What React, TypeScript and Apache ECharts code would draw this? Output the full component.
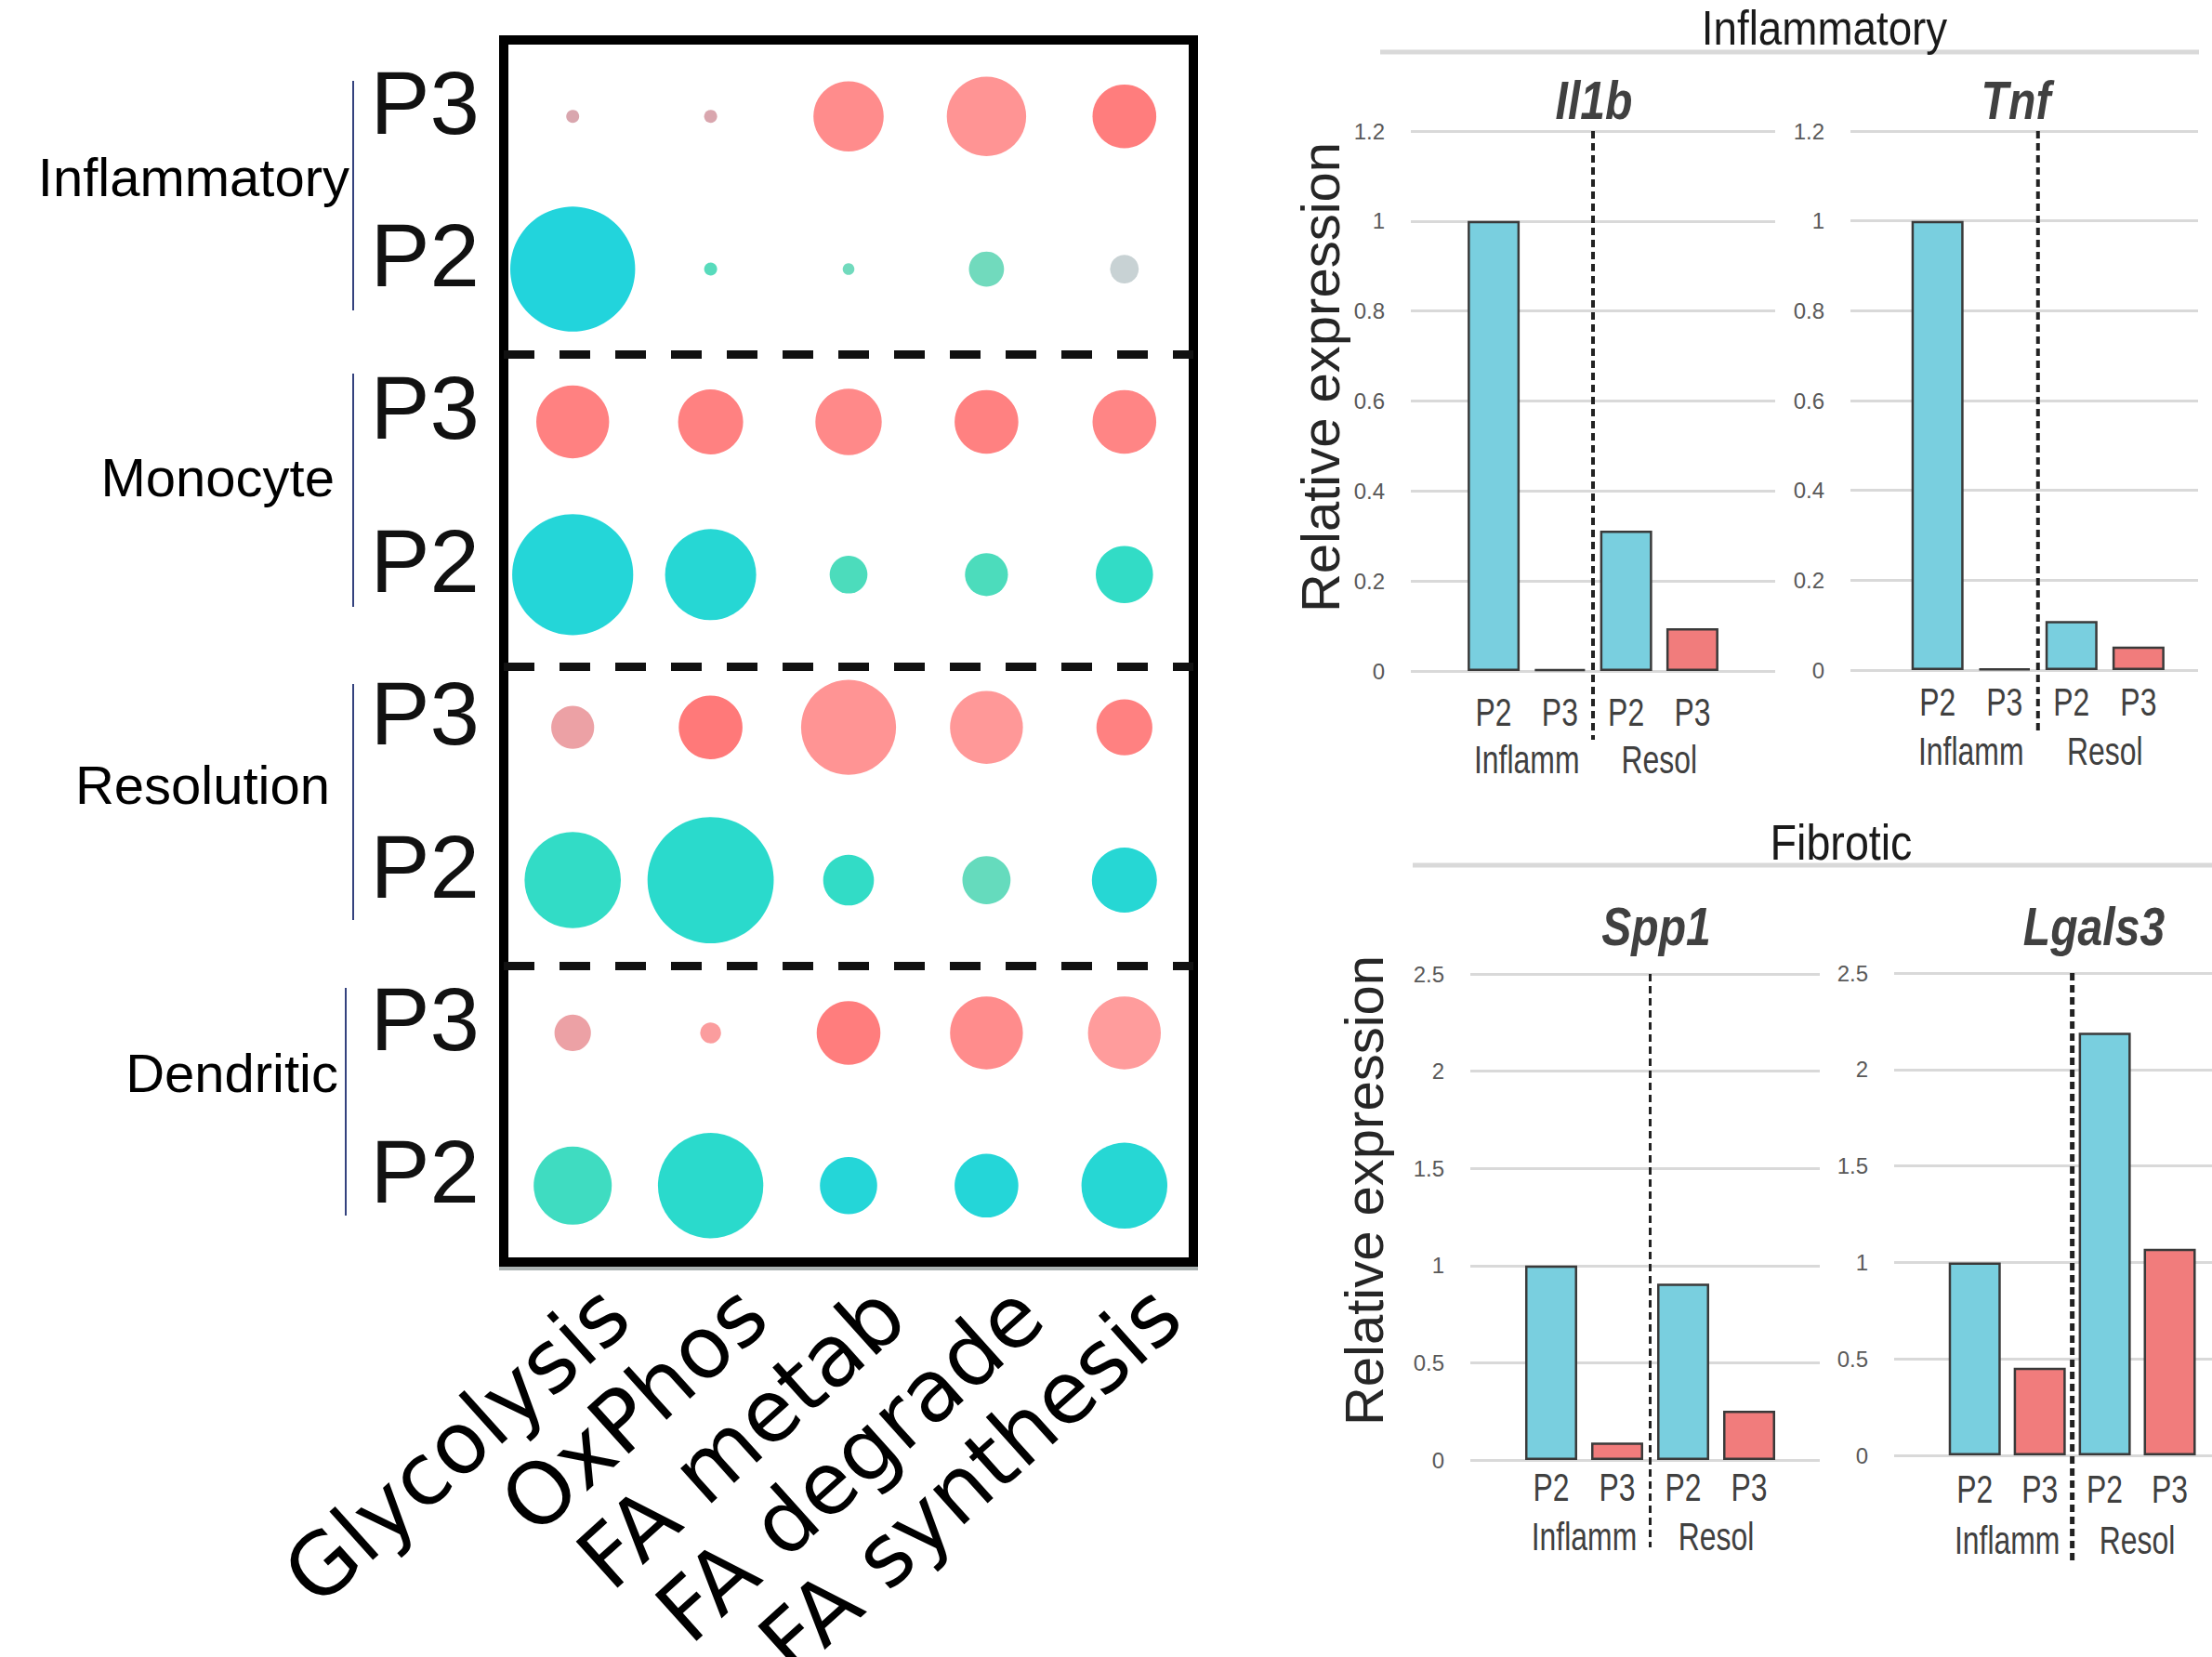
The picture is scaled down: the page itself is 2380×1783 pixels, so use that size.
import React, { useEffect, useRef } from 'react';
import * as echarts from 'echarts';

// ---------------- Dot plot data ----------------
const pathways = ['Glycolysis', 'OxPhos', 'FA metab', 'FA degrade', 'FA synthesis'];
const cellGroups = ['Inflammatory', 'Monocyte', 'Resolution', 'Dendritic'];
const rowPopulations = ['P3', 'P2', 'P3', 'P2', 'P3', 'P2', 'P3', 'P2'];

// dot size score (per pathway)
const inflammatoryP3Size = [10, 10, 54, 61, 49];
const inflammatoryP2Size = [96, 10, 9, 27, 22];
const monocyteP3Size = [56, 50, 51, 49, 49];
const monocyteP2Size = [93, 70, 29, 33, 44];
const resolutionP3Size = [33, 49, 73, 56, 43];
const resolutionP2Size = [74, 97, 39, 37, 50];
const dendriticP3Size = [28, 16, 49, 56, 56];
const dendriticP2Size = [60, 81, 44, 49, 66];

// dot colour level (per pathway)
const inflammatoryP3Level = [0.0, 0.0, 0.7, 0.6, 0.9];
const inflammatoryP2Level = [1.0, 0.45, 0.35, 0.35, 0.0];
const monocyteP3Level = [0.85, 0.85, 0.75, 0.85, 0.8];
const monocyteP2Level = [0.95, 0.9, 0.5, 0.5, 0.7];
const resolutionP3Level = [0.25, 0.95, 0.6, 0.55, 0.85];
const resolutionP2Level = [0.7, 0.8, 0.7, 0.4, 0.9];
const dendriticP3Level = [0.25, 0.45, 0.9, 0.7, 0.5];
const dendriticP2Level = [0.6, 0.8, 0.95, 0.95, 0.9];

const sizeRows = [
  inflammatoryP3Size, inflammatoryP2Size, monocyteP3Size, monocyteP2Size,
  resolutionP3Size, resolutionP2Size, dendriticP3Size, dendriticP2Size,
];
const levelRows = [
  inflammatoryP3Level, inflammatoryP2Level, monocyteP3Level, monocyteP2Level,
  resolutionP3Level, resolutionP2Level, dendriticP3Level, dendriticP2Level,
];
const groupSeparators = [2.06, 4.1, 6.06];

// ---------------- Bar chart data ----------------
const barPopulations = ['P2', 'P3', 'P2', 'P3'];
const barConditions = ['Inflamm', 'Resol'];
const il1bExpression = [1.0, 0.004, 0.312, 0.095];
const tnfExpression = [1.0, 0.003, 0.109, 0.052];
const spp1Expression = [1.0, 0.09, 0.907, 0.253];
const lgals3Expression = [1.0, 0.454, 2.19, 1.07];
const inflammatoryAxis = { max: 1.2, interval: 0.2 };
const fibroticAxis = { max: 2.5, interval: 0.5 };

const SANS = '"Liberation Sans", Arial, sans-serif';
const BLUE = '#79cfdf';
const RED = '#f17c7c';

const panels = [
  { gene: 'Il1b', values: il1bExpression, axis: inflammatoryAxis, left: 1518, top: 141, width: 392, height: 581, xmin: -0.25, xmax: 5.25, lineBottom: 796, lw: 4, dy1: 44, dy2: 95, tx: 1715, ty: 108 },
  { gene: 'Tnf', values: tnfExpression, axis: inflammatoryAxis, left: 1991, top: 141, width: 374, height: 580, xmin: -0.3, xmax: 4.89, lineBottom: 790, lw: 4, dy1: 34, dy2: 87, tx: 2169, ty: 108 },
  { gene: 'Spp1', values: spp1Expression, axis: fibroticAxis, left: 1582, top: 1048, width: 376, height: 523, xmin: -0.225, xmax: 5.07, lineBottom: 1665, lw: 3, dy1: 29, dy2: 82, tx: 1782, ty: 997 },
  { gene: 'Lgals3', values: lgals3Expression, axis: fibroticAxis, left: 2038, top: 1047, width: 342, height: 519, xmin: -0.24, xmax: 4.65, lineBottom: 1680, lw: 5, dy1: 36, dy2: 91, tx: 2253, ty: 997 },
];

function buildOption() {
  const p3Data: any[] = [];
  const p2Data: any[] = [];
  sizeRows.forEach((row, r) => {
    row.forEach((s, c) => {
      const item = [c, r, s, levelRows[r][c]];
      if (rowPopulations[r] === 'P3') p3Data.push(item); else p2Data.push(item);
    });
  });

  const grid: any[] = [
    { left: 542, top: 43, width: 742, height: 1315, outerBoundsMode: 'none', containLabel: false, show: true, borderColor: '#000', borderWidth: 10, backgroundColor: '#fff', shadowColor: 'rgba(150,160,160,0.8)', shadowBlur: 0, shadowOffsetY: 4 },
  ];
  const xAxis: any[] = [
    { type: 'category', gridIndex: 0, data: pathways, boundaryGap: true, axisLine: { show: false }, axisTick: { show: false }, axisLabel: { show: false }, splitLine: { show: false } },
  ];
  const yAxis: any[] = [
    {
      type: 'category', gridIndex: 0, data: rowPopulations, inverse: true, boundaryGap: true,
      axisLine: { show: false }, axisTick: { show: false }, splitLine: { show: false },
      axisLabel: { fontSize: 96, fontFamily: SANS, color: '#111', margin: 26, verticalAlign: 'bottom', lineHeight: 30, interval: 0 },
    },
    { type: 'value', gridIndex: 0, min: 0, max: 8, inverse: true, show: false },
  ];
  const series: any[] = [
    { type: 'scatter', name: 'P3', xAxisIndex: 0, yAxisIndex: 0, data: p3Data, symbol: 'circle', symbolSize: (v: number[]) => v[2] * 1.4, itemStyle: { opacity: 1 }, silent: true },
    { type: 'scatter', name: 'P2', xAxisIndex: 0, yAxisIndex: 0, data: p2Data, symbol: 'circle', symbolSize: (v: number[]) => v[2] * 1.4, itemStyle: { opacity: 1 }, silent: true },
    {
      type: 'scatter', xAxisIndex: 0, yAxisIndex: 1, data: [], silent: true,
      markLine: {
        silent: true, symbol: ['none', 'none'], label: { show: false },
        lineStyle: { color: '#111', width: 9, type: [33, 27] },
        data: groupSeparators.map((v) => ({ yAxis: v })),
      },
    },
  ];

  panels.forEach((p, i) => {
    const g = 1 + i;
    grid.push({ left: p.left, top: p.top, width: p.width, height: p.height, outerBoundsMode: 'none', containLabel: false });
    xAxis.push({
      type: 'value', gridIndex: g, min: p.xmin, max: p.xmax, position: 'bottom',
      axisLine: { show: false }, axisTick: { show: false }, splitLine: { show: false }, axisLabel: { show: false },
    });
    yAxis.push({
      type: 'value', gridIndex: g, min: 0, max: p.axis.max, interval: p.axis.interval,
      axisLine: { show: false }, axisTick: { show: false },
      splitLine: { lineStyle: { color: '#d9d9d9', width: 3 } },
      axisLabel: {
        fontSize: 24, fontFamily: SANS, color: '#595959', margin: 28,
        formatter: (v: number) => String(parseFloat(v.toFixed(2))),
      },
    });
    series.push({
      type: 'bar', xAxisIndex: 1 + i, yAxisIndex: 2 + i, barWidth: 56, silent: true,
      data: p.values.map((v, k) => ({
        value: [k + 1, v],
        itemStyle: { color: barPopulations[k] === 'P2' ? BLUE : RED, borderColor: '#3a3a3a', borderWidth: 2.5 },
      })),
    });
  });

  // label grid for the rotated pathway labels
  grid.push({ left: 588, top: 43, width: 742, height: 1315, outerBoundsMode: 'none', containLabel: false });
  xAxis.push({
    type: 'category', gridIndex: 5, data: pathways, boundaryGap: true,
    axisLine: { show: false }, axisTick: { show: false }, splitLine: { show: false },
    axisLabel: { rotate: 42, interval: 0, fontSize: 92, fontFamily: '"DejaVu Sans", Verdana, sans-serif', color: '#000', margin: 43 },
  });
  yAxis.push({ type: 'value', gridIndex: 5, show: false, min: 0, max: 1 });

  return {
    animation: false,
    backgroundColor: '#fff',
    grid, xAxis, yAxis, series,
    visualMap: [
      { type: 'continuous', show: false, seriesIndex: 0, dimension: 3, min: 0, max: 1, inRange: { color: ['#d9a6ae', '#ff9c9c', '#ff7575'] } },
      { type: 'continuous', show: false, seriesIndex: 1, dimension: 3, min: 0, max: 1, inRange: { color: ['#c8d2d4', '#8ad9be', '#4cdcbc', '#2cdcc8', '#22d4dc'] } },
    ],
  };
}

function narrowText(x: number, y: number, text: string, fontSize: number, extra: any = {}, scaleX = 0.76) {
  return {
    type: 'text', x, y, scaleX, z: 15,
    style: { text, fontSize, fontFamily: SANS, fill: '#404040', align: 'center', verticalAlign: 'middle', ...extra },
  };
}

function baseGraphics() {
  const g: any[] = [];
  const groupLabelPos = [
    { x: 376, y: 190 }, { x: 360, y: 513 }, { x: 355, y: 844 }, { x: 364, y: 1154 },
  ];
  cellGroups.forEach((name, i) => {
    g.push({ type: 'text', x: groupLabelPos[i].x, y: groupLabelPos[i].y, style: { text: name, fontSize: 58, fontFamily: SANS, fill: '#000', align: 'right', verticalAlign: 'middle' } });
  });
  const brackets = [
    { x: 380, y1: 87, y2: 334 }, { x: 380, y1: 402, y2: 653 }, { x: 380, y1: 736, y2: 990 }, { x: 372, y1: 1063, y2: 1308 },
  ];
  brackets.forEach((b) => {
    g.push({ type: 'line', shape: { x1: b.x, y1: b.y1, x2: b.x, y2: b.y2 }, style: { stroke: '#34427e', lineWidth: 2 } });
  });
  // section headers
  g.push(narrowText(1963, 30, 'Inflammatory', 52, { fill: '#1a1a1a' }, 0.88));
  g.push({ type: 'line', shape: { x1: 1485, y1: 56, x2: 2366, y2: 56 }, style: { stroke: '#d9d9d9', lineWidth: 5 } });
  g.push(narrowText(1981, 907, 'Fibrotic', 53, { fill: '#1a1a1a' }, 0.88));
  g.push({ type: 'line', shape: { x1: 1520, y1: 931, x2: 2380, y2: 931 }, style: { stroke: '#d9d9d9', lineWidth: 5 } });
  // gene titles
  panels.forEach((p) => {
    g.push(narrowText(p.tx, p.ty, p.gene, 58, { fontWeight: 'bold', fontStyle: 'italic' }, 0.83));
  });
  // y axis titles
  g.push({ type: 'text', x: 1420, y: 406, rotation: Math.PI / 2, style: { text: 'Relative expression', fontSize: 58, fontFamily: SANS, fill: '#262626', align: 'center', verticalAlign: 'middle' } });
  g.push({ type: 'text', x: 1467, y: 1281, rotation: Math.PI / 2, style: { text: 'Relative expression', fontSize: 58, fontFamily: SANS, fill: '#262626', align: 'center', verticalAlign: 'middle' } });
  return g;
}

export default function App() {
  const ref = useRef<HTMLDivElement>(null);
  useEffect(() => {
    if (!ref.current) return;
    const chart = echarts.init(ref.current, null, { renderer: 'svg' });
    chart.setOption(buildOption() as any);
    const extra: any[] = [];
    panels.forEach((p, i) => {
      const px = (v: number) => chart.convertToPixel({ xAxisIndex: 1 + i } as any, v) as unknown as number;
      const py = (v: number) => chart.convertToPixel({ yAxisIndex: 2 + i } as any, v) as unknown as number;
      const y0 = py(0);
      const x = px(2.5);
      extra.push({ type: 'line', z: 20, shape: { x1: x, y1: py(p.axis.max), x2: x, y2: p.lineBottom }, style: { stroke: '#222', lineWidth: p.lw, lineDash: [8, 5] } });
      barPopulations.forEach((name, k) => {
        extra.push(narrowText(px(k + 1), y0 + p.dy1, name, 42));
      });
      barConditions.forEach((name, k) => {
        extra.push(narrowText(px(1.5 + 2 * k), y0 + p.dy2, name, 42));
      });
    });
    chart.setOption({ graphic: [...baseGraphics(), ...extra] } as any);
    return () => chart.dispose();
  }, []);
  return <div ref={ref} style={{ position: 'fixed', left: 0, top: 0, width: 2380, height: 1783, background: '#fff' }} />;
}
